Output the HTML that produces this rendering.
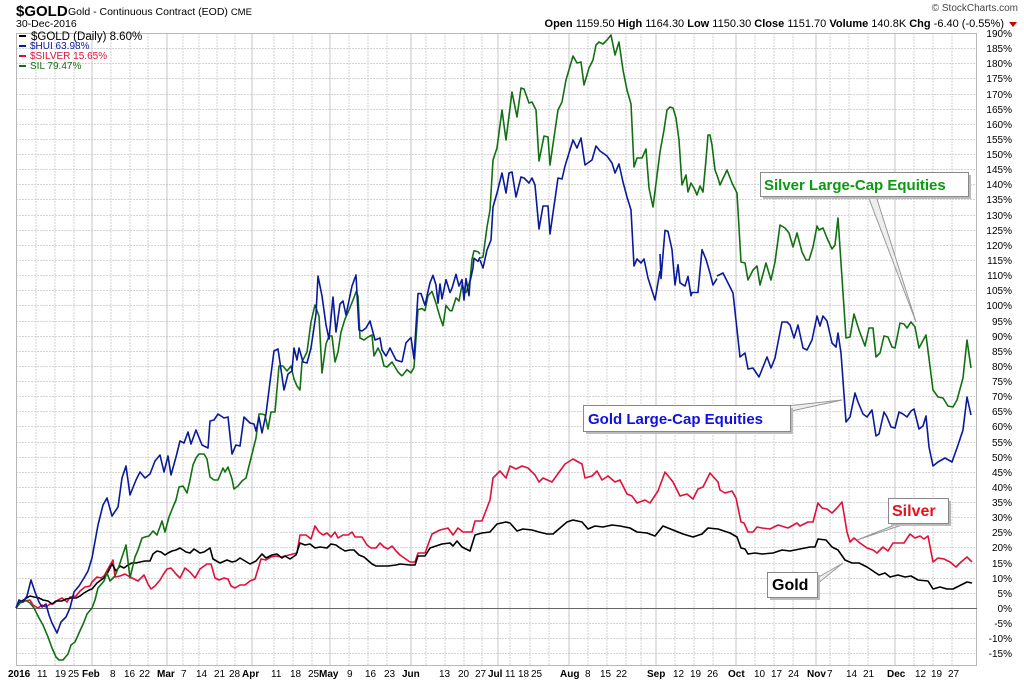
<!DOCTYPE html>
<html><head><meta charset="utf-8"><style>
body{margin:0;background:#fff;width:1024px;height:682px;overflow:hidden;font-family:"Liberation Sans",sans-serif}
svg{position:absolute;left:0;top:0}
</style></head><body>
<svg width="1024" height="682" viewBox="0 0 1024 682" font-family="Liberation Sans, sans-serif">
<rect x="0" y="0" width="1024" height="682" fill="#fff"/>
<g id="hgrid" stroke="#d4d4d4" stroke-width="1" stroke-dasharray="2,1"></g>
<g stroke="#d0d0d0" stroke-width="1" stroke-dasharray="2,1">
<line x1="36" y1="33" x2="36" y2="666"/><line x1="55" y1="33" x2="55" y2="666"/><line x1="74" y1="33" x2="74" y2="666"/>
<line x1="111" y1="33" x2="111" y2="666"/><line x1="130" y1="33" x2="130" y2="666"/><line x1="148" y1="33" x2="148" y2="666"/>
<line x1="183" y1="33" x2="183" y2="666"/><line x1="199" y1="33" x2="199" y2="666"/><line x1="217" y1="33" x2="217" y2="666"/><line x1="235" y1="33" x2="235" y2="666"/>
<line x1="274" y1="33" x2="274" y2="666"/><line x1="293" y1="33" x2="293" y2="666"/><line x1="312" y1="33" x2="312" y2="666"/>
<line x1="349" y1="33" x2="349" y2="666"/><line x1="368" y1="33" x2="368" y2="666"/><line x1="387" y1="33" x2="387" y2="666"/>
<line x1="426" y1="33" x2="426" y2="666"/><line x1="445" y1="33" x2="445" y2="666"/><line x1="464" y1="33" x2="464" y2="666"/><line x1="482" y1="33" x2="482" y2="666"/>
<line x1="510" y1="33" x2="510" y2="666"/><line x1="530" y1="33" x2="530" y2="666"/><line x1="549" y1="33" x2="549" y2="666"/>
<line x1="588" y1="33" x2="588" y2="666"/><line x1="607" y1="33" x2="607" y2="666"/><line x1="626" y1="33" x2="626" y2="666"/><line x1="641" y1="33" x2="641" y2="666"/>
<line x1="675" y1="33" x2="675" y2="666"/><line x1="694" y1="33" x2="694" y2="666"/><line x1="713" y1="33" x2="713" y2="666"/>
<line x1="755" y1="33" x2="755" y2="666"/><line x1="774" y1="33" x2="774" y2="666"/><line x1="793" y1="33" x2="793" y2="666"/>
<line x1="830" y1="33" x2="830" y2="666"/><line x1="849" y1="33" x2="849" y2="666"/><line x1="868" y1="33" x2="868" y2="666"/>
<line x1="914" y1="33" x2="914" y2="666"/><line x1="933" y1="33" x2="933" y2="666"/><line x1="952" y1="33" x2="952" y2="666"/>
</g>
<g stroke="#c4c4c4" stroke-width="1">
<line x1="92" y1="33" x2="92" y2="666"/><line x1="167" y1="33" x2="167" y2="666"/><line x1="252" y1="33" x2="252" y2="666"/><line x1="330" y1="33" x2="330" y2="666"/><line x1="411" y1="33" x2="411" y2="666"/><line x1="498" y1="33" x2="498" y2="666"/><line x1="569" y1="33" x2="569" y2="666"/><line x1="656" y1="33" x2="656" y2="666"/><line x1="736" y1="33" x2="736" y2="666"/><line x1="816" y1="33" x2="816" y2="666"/><line x1="895" y1="33" x2="895" y2="666"/>
</g>
<rect x="16.5" y="33.5" width="960" height="632" fill="none" stroke="#b8b8b8"/>
<line x1="16" y1="608.5" x2="977" y2="608.5" stroke="#666" stroke-width="1"/>

<g fill="none" stroke-width="1.6" stroke-linejoin="round">
<polyline stroke="#e0103a" points="16,608 20,603 25,601 30,600 33,605 38,608 42,605 46,607 50,604 53,604 58,600 62,598 67,602 70,597 76,596 80,591 85,587 90,586 92,582 97,577 101,578 104,576 109,567 113,560 115,577 120,576 125,574 130,577 134,579 138,581 144,575 148,584 151,589 155,586 160,580 163,575 167,569 171,568 176,574 180,578 185,568 190,572 195,578 200,569 207,564 211,564 215,578 219,580 224,578 228,579 231,586 235,588 240,585 245,585 250,581 255,579 261,559 266,560 271,557 276,556 281,557 297,553 300,535 306,535 311,539 315,526 319,532 323,535 327,533 331,537 335,532 338,538 343,535 348,535 352,532 355,537 362,537 367,545 371,548 376,548 380,543 384,547 388,549 392,546 396,551 400,555 410,562 415,562 418,553 425,553 432,534 440,530 448,528 453,535 458,528 463,532 472,532 475,521 482,521 490,500 493,478 500,471 506,478 510,466 516,469 522,466 528,468 535,475 539,482 543,478 552,482 557,475 565,464 573,459 582,464 585,478 592,476 597,471 602,480 608,476 615,482 620,480 627,494 632,496 637,503 645,500 650,503 658,491 665,472 673,482 680,496 687,494 693,499 698,489 703,487 710,473 718,482 720,490 725,493 732,491 736,498 741,522 744,523 748,532 753,532 757,527 762,528 770,529 778,525 788,528 797,523 800,526 808,522 813,522 818,503 822,508 827,509 832,513 837,508 842,502 847,532 850,542 854,538 860,543 867,548 873,550 877,553 883,547 888,551 893,543 899,543 904,543 910,534 915,538 920,536 924,539 928,536 933,562 938,558 944,559 950,562 956,567 961,562 967,557 972,562"/>
<polyline stroke="#000" points="16,608 20,602 25,599 30,596 34,597 39,598 43,600 48,601 52,604 56,601 62,601 66,599 71,598 76,598 80,596 84,593 89,590 92,589 97,583 101,580 104,578 108,572 112,564 116,571 120,566 124,568 128,565 132,563 136,563 140,562 145,561 150,561 153,554 157,551 161,552 165,555 168,553 172,551 176,550 180,548 186,552 190,553 194,549 200,553 204,552 210,548 213,559 220,563 227,560 232,562 236,561 240,558 245,561 250,564 256,561 262,554 266,558 272,555 277,554 282,558 285,556 290,559 296,555 300,543 305,545 310,544 315,548 320,547 327,548 331,544 336,545 340,548 345,551 350,550 354,550 359,555 364,557 372,564 376,566 380,566 388,566 396,565 400,564 410,565 415,565 418,556 425,556 430,548 442,544 450,543 453,546 457,541 462,547 470,551 475,535 482,533 490,532 497,524 506,522 510,523 517,531 523,529 532,530 539,532 547,534 553,534 560,528 567,522 573,520 582,522 588,529 595,526 603,527 612,525 620,526 630,528 637,532 647,533 655,536 663,526 673,530 683,534 693,537 702,534 708,528 718,529 730,533 737,537 741,548 745,549 748,554 755,553 762,554 773,553 782,550 790,551 800,549 810,547 815,547 818,539 826,540 832,547 838,550 845,560 852,563 859,563 867,567 873,571 879,575 885,573 890,577 898,575 905,577 911,576 918,580 928,581 933,589 940,587 947,589 953,589 961,585 967,582 972,583"/>
<polyline stroke="#127012" points="16,608 20,603 25,600 30,603 34,608 39,618 43,625 48,637 52,648 56,657 59,660 63,660 68,654 71,645 75,642 79,633 84,622 87,614 92,608 95,600 98,588 104,581 107,573 110,581 115,576 119,566 122,557 126,545 130,578 135,557 138,550 142,538 145,537 149,536 153,531 157,535 162,521 165,532 169,517 173,507 176,500 179,487 183,486 187,493 190,480 193,465 196,458 199,454 204,454 207,459 210,477 214,480 218,480 223,468 225,472 228,467 232,479 234,489 238,486 242,481 246,478 248,470 252,454 256,438 259,414 262,414 265,415 268,429 271,412 275,412 279,366 283,366 287,371 291,366 294,379 297,386 300,390 302,362 307,352 311,322 315,305 319,316 322,373 326,344 329,336 332,336 335,362 338,352 341,332 345,319 349,310 353,300 356,292 358,296 360,338 364,340 368,337 372,335 374,356 378,348 381,354 384,366 387,367 392,362 398,372 402,376"/>
<g transform="translate(0,30) scale(1,1.0714) translate(0,-30)">
<polyline vector-effect="non-scaling-stroke" stroke="#127012" points="402,353 407,347 411,350 414,345 418,291 422,290 425,292 428,278 432,274 436,285 440,298 443,306 446,287 450,292 452,292 456,280 459,283 462,268 466,275 470,264 472,244 474,236 478,237 480,239"/>
<polyline vector-effect="non-scaling-stroke" stroke="#0a1a9a" points="402,340 406,322 411,317 414,337 418,276 421,276 425,287 428,274 430,266 433,259 436,268 438,285 440,267 442,281 446,263 450,275 452,271 456,258 459,269 462,263 464,282 466,262 469,278 470,265 473,252 474,243 478,246 480,242"/>
<polyline vector-effect="non-scaling-stroke" stroke="#0a1a9a" points="660,239 661,262 665,217 668,218 672,235 675,268 678,249 680,266 685,269 688,260 691,278 692,275 698,275 702,235 706,244 710,257 713,268 717,262"/>
</g>
<polyline stroke="#127012" points="480,258 483,257 487,227 490,210 493,160 497,148 502,110 506,140 512,92 517,117 521,88 524,89 529,103 532,102 536,110 539,161 544,136 548,137 550,165 558,110 562,102 566,80 573,56 577,63 581,62 584,85 589,68 593,60 596,45 599,42 603,44 607,40 611,35 615,55 619,42 623,70 627,90 631,104 634,167 637,158 642,158 646,149 649,188 653,207 660,152 664,130 667,110 670,107 673,108 676,118 679,140 682,185 686,175 688,192 691,183 694,188 697,195 700,186 703,192 706,160 708,135 710,135 712,145 715,170 718,178 720,185 727,170 732,183 737,193 741,262 745,263 748,280 753,270 757,266 760,285 766,263 771,280 775,262 780,225 785,228 789,233 793,247 797,233 802,252 806,260 809,260 813,247 817,226 819,230 823,228 827,238 832,249 835,245 838,218 846,338 850,337 854,314 859,330 865,346 869,328 873,328 876,357 880,353 884,336 888,337 892,347 895,348 900,323 904,324 907,328 911,322 915,327 919,348 926,335 933,390 938,397 943,398 948,406 953,407 957,400 963,378 967,340 971,368"/>
<polyline stroke="#0a1a9a" points="480,260 483,268 487,250 491,240 493,207 497,193 502,173 506,193 509,173 512,172 516,197 521,177 524,178 529,183 532,178 535,185 539,229 543,206 548,206 550,234 558,178 562,179 565,166 573,140 577,148 581,138 585,165 592,160 596,146 600,151 607,156 612,163 615,173 619,164 623,182 627,197 631,210 634,266 637,259 641,263 644,259 648,278 655,300 660,271"/>
<polyline stroke="#0a1a9a" points="16,608 19,600 23,602 27,596 31,580 35,592 39,602 42,607 46,604 49,615 52,623 57,633 61,622 66,617 70,608 74,592 79,586 84,578 88,571 92,558 98,525 103,505 107,498 112,516 118,507 122,478 126,466 130,495 136,480 140,472 145,478 150,474 155,461 160,455 164,472 168,456 171,475 176,457 180,441 184,443 188,432 191,444 196,430 202,445 208,448 210,421 214,420 218,414 224,418 228,417 232,454 236,445 240,446 244,417 250,423 254,424 256,431 259,417 262,433 266,414 270,382 274,351 278,349 284,390 288,374 292,371 294,348 297,360 299,348 303,362 307,363 311,348 316,314 318,276 322,296 326,325 329,339 333,297 336,332 340,304 343,301 346,315 352,286 356,275 359,330 362,331 366,328 370,321 375,340 380,338 382,350 386,356 390,348 396,360 402,362"/>
<polyline stroke="#0a1a9a" points="717,276 723,273 733,293 740,357 745,353 748,369 753,368 759,377 767,357 771,368 775,358 782,322 787,322 790,325 794,338 798,325 803,348 807,350 812,340 817,316 820,326 823,316 827,321 832,343 836,347 838,333 841,353 846,422 850,417 855,393 858,402 863,414 867,417 872,410 876,436 879,434 884,412 887,417 891,427 895,428 899,412 903,414 907,417 911,411 914,409 919,429 923,426 926,416 929,447 933,466 938,462 945,458 952,462 957,448 963,430 967,397 971,415"/>
</g>

<g fill="#fff" stroke="#999" stroke-width="1">
<polygon points="868,196 876,196 916,322" fill="#eee"/>
<polygon points="787,406 787,412 842,400" fill="#eee"/>
<polygon points="900,523 908,523 857,540" fill="#eee"/>
<polygon points="817,578 817,584 843,563" fill="#eee"/>
</g>
<g stroke="#888" fill="#fff">
<rect x="763" y="175" width="208" height="24" fill="#bbb" stroke="none"/>
<rect x="760.5" y="172.5" width="208" height="24"/>
<rect x="586" y="408" width="207" height="26" fill="#bbb" stroke="none"/>
<rect x="583.5" y="405.5" width="207" height="26"/>
<rect x="891" y="501" width="60" height="25" fill="#bbb" stroke="none"/>
<rect x="888.5" y="498.5" width="60" height="25"/>
<rect x="770" y="575" width="50" height="25" fill="#bbb" stroke="none"/>
<rect x="767.5" y="572.5" width="50" height="25"/>
</g>
<g font-weight="bold" font-size="15">
<text x="764" y="190" fill="#0a9a10">Silver Large-Cap Equities</text>
<text x="588" y="424" fill="#1010e0">Gold Large-Cap Equities</text>
<text x="892" y="516" fill="#e8101a" font-size="16">Silver</text>
<text x="772" y="590" fill="#000" font-size="16">Gold</text>
</g>

<text x="16" y="16" font-size="15" font-weight="bold" fill="#000">$GOLD</text>
<text x="68" y="15" font-size="10.5" fill="#000">Gold - Continuous Contract (EOD) <tspan font-size="9.5">CME</tspan></text>
<text x="16" y="27" font-size="10.5" fill="#000">30-Dec-2016</text>
<text x="1018" y="11" font-size="10" fill="#444" text-anchor="end">© StockCharts.com</text>
<text x="1004" y="27" font-size="11" fill="#000" text-anchor="end"><tspan font-weight="bold">Open</tspan> 1159.50 <tspan font-weight="bold">High</tspan> 1164.30 <tspan font-weight="bold">Low</tspan> 1150.30 <tspan font-weight="bold">Close</tspan> 1151.70 <tspan font-weight="bold">Volume</tspan> 140.8K <tspan font-weight="bold">Chg</tspan> -6.40 (-0.55%)</text>
<polygon points="1009,22 1017,22 1013,27" fill="#c00"/>
<g font-size="10">
<rect x="19" y="35" width="7" height="2" fill="#000"/><text x="31" y="40" font-size="11.5" fill="#000">$GOLD (Daily) 8.60%</text>
<rect x="19" y="45" width="7" height="2" fill="#0a1a9a"/><text x="30" y="49" fill="#0a1a9a">$HUI 63.98%</text>
<rect x="19" y="55" width="7" height="2" fill="#e0103a"/><text x="30" y="59" fill="#e0103a">$SILVER 15.65%</text>
<rect x="19" y="65" width="7" height="2" fill="#127012"/><text x="30" y="69" fill="#127012">SIL 79.47%</text>
</g>
<g id="ylab" font-size="10" fill="#000" text-anchor="end"></g>
<g font-size="10" fill="#000">
<text x="8" y="677" font-weight="bold">2016</text><text x="37" y="677">11</text><text x="55" y="677">19</text><text x="68" y="677">25</text>
<text x="82" y="677" font-weight="bold">Feb</text><text x="110" y="677">8</text><text x="124" y="677">16</text><text x="139" y="677">22</text>
<text x="157" y="677" font-weight="bold">Mar</text><text x="181" y="677">7</text><text x="196" y="677">14</text><text x="214" y="677">21</text><text x="229" y="677">28</text>
<text x="242" y="677" font-weight="bold">Apr</text><text x="271" y="677">11</text><text x="290" y="677">18</text><text x="308" y="677">25</text>
<text x="319" y="677" font-weight="bold">May</text><text x="347" y="677">9</text><text x="365" y="677">16</text><text x="384" y="677">23</text>
<text x="402" y="677" font-weight="bold">Jun</text><text x="439" y="677">13</text><text x="458" y="677">20</text><text x="475" y="677">27</text>
<text x="488" y="677" font-weight="bold">Jul</text><text x="505" y="677">11</text><text x="518" y="677">18</text><text x="531" y="677">25</text>
<text x="560" y="677" font-weight="bold">Aug</text><text x="585" y="677">8</text><text x="600" y="677">15</text><text x="616" y="677">22</text>
<text x="647" y="677" font-weight="bold">Sep</text><text x="673" y="677">12</text><text x="690" y="677">19</text><text x="707" y="677">26</text>
<text x="728" y="677" font-weight="bold">Oct</text><text x="754" y="677">10</text><text x="771" y="677">17</text><text x="788" y="677">24</text>
<text x="807" y="677" font-weight="bold">Nov</text><text x="827" y="677">7</text><text x="846" y="677">14</text><text x="863" y="677">21</text>
<text x="887" y="677" font-weight="bold">Dec</text><text x="915" y="677">12</text><text x="931" y="677">19</text><text x="948" y="677">27</text>
</g>
</svg>
<script>
(function(){
var ns="http://www.w3.org/2000/svg",g=document.getElementById("hgrid"),yl=document.getElementById("ylab");
for(var p=-15;p<=190;p+=5){var y=608-p*3.026;var yy=Math.round(y)+0.5;
if(p!==0){var l=document.createElementNS(ns,"line");l.setAttribute("x1",16);l.setAttribute("x2",977);l.setAttribute("y1",yy);l.setAttribute("y2",yy);g.appendChild(l);}
var t=document.createElementNS(ns,"text");t.setAttribute("x",1012);t.setAttribute("y",Math.round(y)+4);t.textContent=p+"%";yl.appendChild(t);}
})();
</script>
</body></html>
